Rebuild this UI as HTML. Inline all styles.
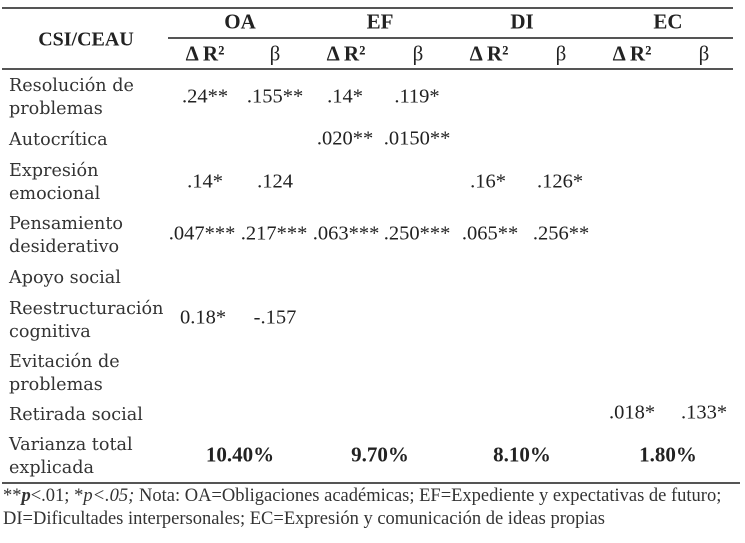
<!DOCTYPE html>
<html><head><meta charset="utf-8"><style>
body{margin:0;width:745px;height:543px;background:#fff;position:relative;overflow:hidden;color:#222}
.c{position:absolute;transform:translate(-50%,-50%);white-space:nowrap;font-family:"Liberation Serif",serif;font-size:20.5px}
.h{font-size:21px}
.l{position:absolute;left:9px;font-family:"DejaVu Serif",serif;font-size:17.6px;line-height:23px;color:#333}
.b{font-weight:bold}
.r{position:absolute;background:#555;height:1.5px}
.f{position:absolute;left:3px;font-family:"Liberation Serif",serif;font-size:18.5px;white-space:nowrap;color:#333}
</style></head><body>
<div class="r" style="left:2px;width:731px;top:7px"></div>
<div class="r" style="left:168px;width:565px;top:37px"></div>
<div class="r" style="left:2px;width:731px;top:68px"></div>
<div class="r" style="left:2px;width:738px;top:482px"></div>

<div class="c b" style="left:86px;top:40px;font-size:20px">CSI/CEAU</div>
<div class="c b h" style="left:240px;top:22px">OA</div>
<div class="c b h" style="left:380px;top:22px">EF</div>
<div class="c b h" style="left:522px;top:22px">DI</div>
<div class="c b h" style="left:668px;top:22px">EC</div>
<div class="c b h" style="left:205px;top:54px">Δ R²</div><div class="c h" style="left:275px;top:54px">β</div>
<div class="c b h" style="left:346px;top:54px">Δ R²</div><div class="c h" style="left:418px;top:54px">β</div>
<div class="c b h" style="left:489px;top:54px">Δ R²</div><div class="c h" style="left:561px;top:54px">β</div>
<div class="c b h" style="left:632px;top:54px">Δ R²</div><div class="c h" style="left:704px;top:54px">β</div>

<div class="l" style="top:75px">Resolución de<br>problemas</div>
<div class="l" style="top:129px">Autocrítica</div>
<div class="l" style="top:160px">Expresión<br>emocional</div>
<div class="l" style="top:213px">Pensamiento<br>desiderativo</div>
<div class="l" style="top:267px">Apoyo social</div>
<div class="l" style="top:298px">Reestructuración<br>cognitiva</div>
<div class="l" style="top:351px">Evitación de<br>problemas</div>
<div class="l" style="top:404px">Retirada social</div>
<div class="l" style="top:434px">Varianza total<br>explicada</div>

<div class="c" style="left:205px;top:97px">.24**</div>
<div class="c" style="left:275px;top:97px">.155**</div>
<div class="c" style="left:345px;top:97px">.14*</div>
<div class="c" style="left:417px;top:97px">.119*</div>
<div class="c" style="left:345px;top:139px">.020**</div>
<div class="c" style="left:417px;top:139px">.0150**</div>
<div class="c" style="left:205px;top:182px">.14*</div>
<div class="c" style="left:275px;top:182px">.124</div>
<div class="c" style="left:488px;top:182px">.16*</div>
<div class="c" style="left:560px;top:182px">.126*</div>
<div class="c" style="left:202px;top:234px">.047***</div>
<div class="c" style="left:274px;top:234px">.217***</div>
<div class="c" style="left:346px;top:234px">.063***</div>
<div class="c" style="left:417px;top:234px">.250***</div>
<div class="c" style="left:490px;top:234px">.065**</div>
<div class="c" style="left:561px;top:234px">.256**</div>
<div class="c" style="left:203px;top:318px">0.18*</div>
<div class="c" style="left:275px;top:318px">-.157</div>
<div class="c" style="left:632px;top:413px">.018*</div>
<div class="c" style="left:704px;top:413px">.133*</div>

<div class="c b h" style="left:240px;top:455px">10.40%</div>
<div class="c b h" style="left:380px;top:455px">9.70%</div>
<div class="c b h" style="left:522px;top:455px">8.10%</div>
<div class="c b h" style="left:668px;top:455px">1.80%</div>

<div class="f" style="top:486px">**<b><i>p</i></b>&lt;.01; *<i>p&lt;.05;</i> Nota: OA=Obligaciones académicas; EF=Expediente y expectativas de futuro;</div>
<div class="f" style="top:509px">DI=Dificultades interpersonales; EC=Expresión y comunicación de ideas propias</div>
</body></html>
